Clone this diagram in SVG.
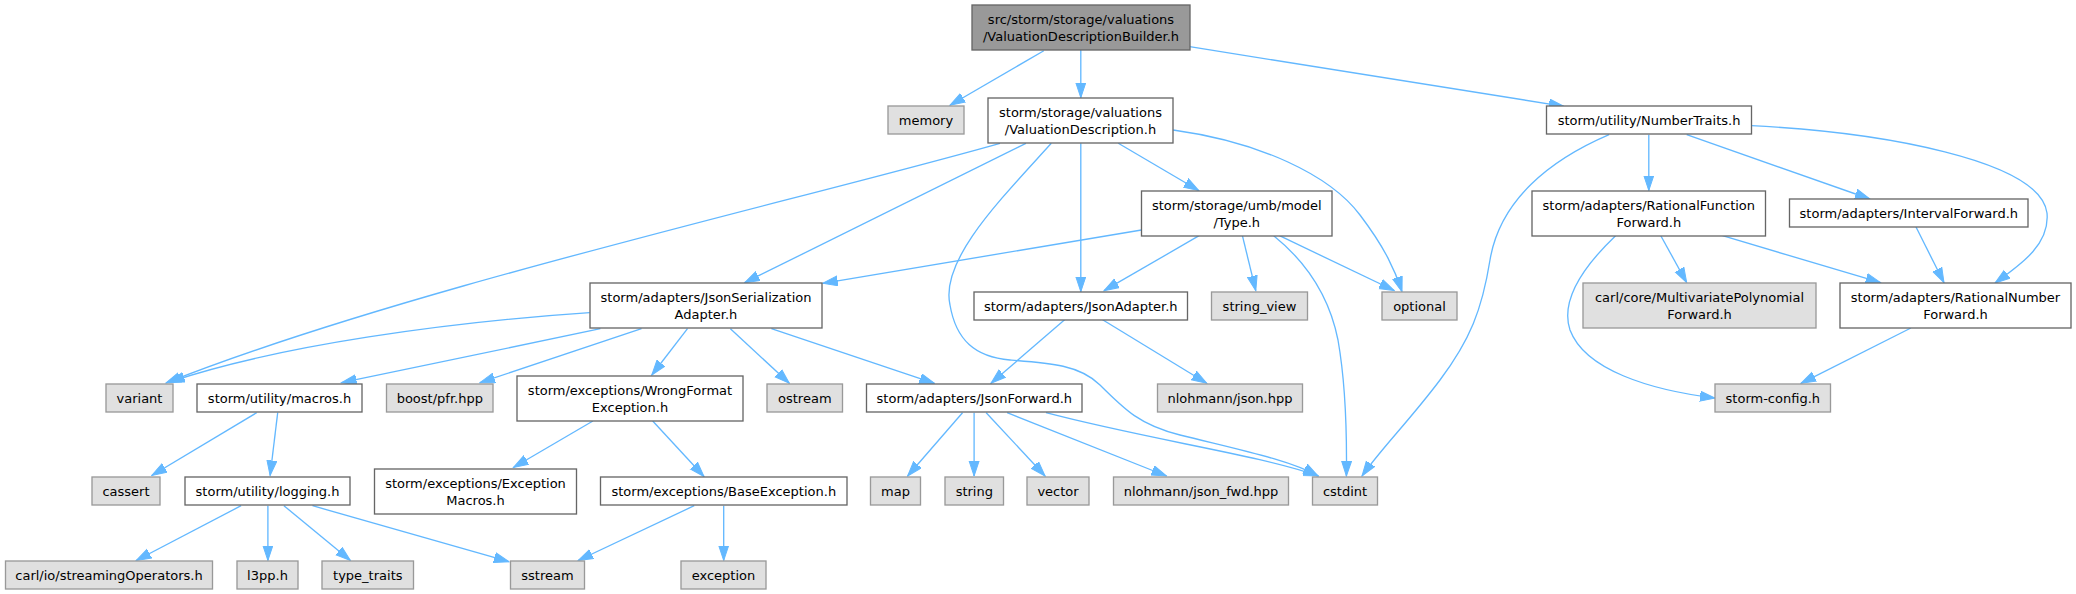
<svg xmlns="http://www.w3.org/2000/svg" width="2076" height="594" viewBox="0 0 2076 594">
<style>
.n rect{fill:#ffffff;stroke:#666666;stroke-width:1.33}
.g rect{fill:#e0e0e0;stroke:#999999;stroke-width:1.33}
.r rect{fill:#999999;stroke:#666666;stroke-width:1.33}
text{font-family:"DejaVu Sans",sans-serif;font-size:13px;fill:#000000;text-anchor:middle}
#edges path{fill:none;stroke:#63b8ff;stroke-width:1.33;marker-end:url(#ah)}
</style>
<defs>
<marker id="ah" markerUnits="userSpaceOnUse" markerWidth="16" markerHeight="12" refX="15" refY="5.5" orient="auto">
<path d="M0,0.5 L15,5.5 L0,10.5 z" fill="#63b8ff" stroke="#63b8ff" stroke-width="1"/>
</marker>
</defs>
<rect width="2076" height="594" fill="#ffffff"/>
<g id="edges">
<path d="M1043.8,50.7 L950,105.3"/>
<path d="M1080.8,50 L1080.8,97.7"/>
<path d="M1189.7,46.7 L1563.8,106.3"/>
<path d="M1000,143.3 C800,200 400,290 166,383"/>
<path d="M1025.9,143.3 L744.6,282.7"/>
<path d="M1051.3,143.3 C1000,200 940,260 950,305 C956,340 975,357 1010,360 C1050,363 1080,365 1100,385 C1125,410 1140,425 1180,435 C1240,450 1290,460 1318,476"/>
<path d="M1080.8,143.3 L1080.8,291.7"/>
<path d="M1118.3,143.3 L1198.7,190.5"/>
<path d="M1173.2,130 C1260,142 1330,175 1360,215 C1385,248 1395,270 1402,291.7"/>
<path d="M1141.5,230 L822.8,283.3"/>
<path d="M1199.1,235.7 L1104,290.7"/>
<path d="M1242.4,235.7 L1255.8,290.7"/>
<path d="M1273.7,235.7 C1310,265 1330,300 1338,340 C1345,380 1347,430 1346.4,476"/>
<path d="M1279.5,235.7 L1394.2,290.5"/>
<path d="M1609.1,134.7 C1550,160 1500,200 1490,260 C1482,310 1470,340 1440,380 C1410,420 1380,450 1362,476"/>
<path d="M1648.8,134.7 L1648.8,190.5"/>
<path d="M1686.7,134.7 L1869.9,199"/>
<path d="M1751.4,125.7 C1880,132 2040,160 2047,213 C2050,245 2020,265 1995,283"/>
<path d="M1615.6,235.7 C1585,265 1560,300 1570,330 C1585,370 1650,390 1715,398"/>
<path d="M1660.8,235.7 L1686.7,282.7"/>
<path d="M1722.5,235.7 L1880.7,282.7"/>
<path d="M1916,227 L1944,282.7"/>
<path d="M1910.9,328 L1801,383.3"/>
<path d="M589.7,312.7 C450,322 280,345 169.6,382"/>
<path d="M600.4,328.7 L341.5,382.7"/>
<path d="M641.5,328.7 L479.9,382.7"/>
<path d="M687.5,328.7 L651.8,375"/>
<path d="M730.4,328.7 L789.3,383.3"/>
<path d="M771.4,328.7 L934.4,383.3"/>
<path d="M1065.2,319.3 L991,383.3"/>
<path d="M1101.8,319.3 L1206.7,383.3"/>
<path d="M962.5,412.7 L907.6,476"/>
<path d="M974.1,412.7 L974.1,476"/>
<path d="M986.2,412.7 L1045.1,476"/>
<path d="M1007.1,412.7 L1166.5,476"/>
<path d="M1046,412.7 C1150,440 1260,455 1318.3,476"/>
<path d="M256.7,412.7 L151.8,475.5"/>
<path d="M277.7,412.7 L270.1,475.5"/>
<path d="M241.1,505.7 L136.2,560.5"/>
<path d="M267.9,505.7 L267.9,560.5"/>
<path d="M283.9,505.7 L350.4,560.5"/>
<path d="M312.5,505.7 L508.9,561.7"/>
<path d="M592.9,421 L513.4,467.5"/>
<path d="M652.7,421 L704,476.5"/>
<path d="M694.2,505.7 L578.1,560.5"/>
<path d="M723.7,505.7 L723.7,560.5"/>
</g>
<g id="n_root" class="r"><rect x="972" y="5" width="218" height="45"/><text x="1081" y="24">src/storm/storage/valuations</text><text x="1081" y="40.5">/ValuationDescriptionBuilder.h</text></g>
<g id="n_memory" class="g"><rect x="888" y="106" width="76" height="28"/><text x="926" y="125">memory</text></g>
<g id="n_valdesc" class="n"><rect x="988" y="98" width="185" height="45"/><text x="1080.5" y="117">storm/storage/valuations</text><text x="1080.5" y="133.5">/ValuationDescription.h</text></g>
<g id="n_numbertraits" class="n"><rect x="1546.5" y="106" width="205" height="28"/><text x="1649" y="125">storm/utility/NumberTraits.h</text></g>
<g id="n_variant" class="g"><rect x="106" y="384" width="67" height="28"/><text x="139.5" y="403">variant</text></g>
<g id="n_jsonser" class="n"><rect x="590" y="283" width="232" height="45"/><text x="706" y="302">storm/adapters/JsonSerialization</text><text x="706" y="318.5">Adapter.h</text></g>
<g id="n_cstdint" class="g"><rect x="1312.5" y="477" width="65" height="28"/><text x="1345" y="496">cstdint</text></g>
<g id="n_jsonadapter" class="n"><rect x="974" y="292" width="213.5" height="28"/><text x="1080.8" y="311">storm/adapters/JsonAdapter.h</text></g>
<g id="n_type" class="n"><rect x="1141.5" y="191" width="190.5" height="45"/><text x="1236.8" y="210">storm/storage/umb/model</text><text x="1236.8" y="226.5">/Type.h</text></g>
<g id="n_optional" class="g"><rect x="1382" y="292" width="75" height="28"/><text x="1419.5" y="311">optional</text></g>
<g id="n_stringview" class="g"><rect x="1211.5" y="292" width="96" height="28"/><text x="1259.5" y="311">string_view</text></g>
<g id="n_macros" class="n"><rect x="197" y="384" width="165" height="28"/><text x="279.5" y="403">storm/utility/macros.h</text></g>
<g id="n_pfr" class="g"><rect x="386.5" y="384" width="106.5" height="28"/><text x="439.8" y="403">boost/pfr.hpp</text></g>
<g id="n_wrongformat" class="n"><rect x="517" y="376" width="226" height="45"/><text x="630" y="395">storm/exceptions/WrongFormat</text><text x="630" y="411.5">Exception.h</text></g>
<g id="n_ostream" class="g"><rect x="767" y="384" width="75.5" height="28"/><text x="804.8" y="403">ostream</text></g>
<g id="n_jsonforward" class="n"><rect x="866.5" y="384" width="215.5" height="28"/><text x="974.3" y="403">storm/adapters/JsonForward.h</text></g>
<g id="n_jsonhpp" class="g"><rect x="1157.5" y="384" width="145" height="28"/><text x="1230" y="403">nlohmann/json.hpp</text></g>
<g id="n_cassert" class="g"><rect x="92" y="477" width="68" height="28"/><text x="126" y="496">cassert</text></g>
<g id="n_logging" class="n"><rect x="185" y="477" width="165" height="28"/><text x="267.5" y="496">storm/utility/logging.h</text></g>
<g id="n_excmacros" class="n"><rect x="374.5" y="469" width="202" height="45"/><text x="475.5" y="488">storm/exceptions/Exception</text><text x="475.5" y="504.5">Macros.h</text></g>
<g id="n_baseexc" class="n"><rect x="600.5" y="477" width="246.5" height="28"/><text x="723.8" y="496">storm/exceptions/BaseException.h</text></g>
<g id="n_map" class="g"><rect x="870.5" y="477" width="50" height="28"/><text x="895.5" y="496">map</text></g>
<g id="n_string" class="g"><rect x="945" y="477" width="58.5" height="28"/><text x="974.3" y="496">string</text></g>
<g id="n_vector" class="g"><rect x="1027" y="477" width="62" height="28"/><text x="1058" y="496">vector</text></g>
<g id="n_jsonfwd" class="g"><rect x="1113.5" y="477" width="175" height="28"/><text x="1201" y="496">nlohmann/json_fwd.hpp</text></g>
<g id="n_streamops" class="g"><rect x="5.5" y="561" width="207" height="28"/><text x="109" y="580">carl/io/streamingOperators.h</text></g>
<g id="n_l3pp" class="g"><rect x="237" y="561" width="61" height="28"/><text x="267.5" y="580">l3pp.h</text></g>
<g id="n_typetraits" class="g"><rect x="322" y="561" width="91.5" height="28"/><text x="367.8" y="580">type_traits</text></g>
<g id="n_sstream" class="g"><rect x="510.5" y="561" width="74" height="28"/><text x="547.5" y="580">sstream</text></g>
<g id="n_exception" class="g"><rect x="681" y="561" width="85" height="28"/><text x="723.5" y="580">exception</text></g>
<g id="n_ratfunc" class="n"><rect x="1532" y="191" width="233.5" height="45"/><text x="1648.8" y="210">storm/adapters/RationalFunction</text><text x="1648.8" y="226.5">Forward.h</text></g>
<g id="n_interval" class="n"><rect x="1789.5" y="199" width="238.5" height="28"/><text x="1908.8" y="218">storm/adapters/IntervalForward.h</text></g>
<g id="n_carlmvp" class="g"><rect x="1583" y="283" width="233" height="45"/><text x="1699.5" y="302">carl/core/MultivariatePolynomial</text><text x="1699.5" y="318.5">Forward.h</text></g>
<g id="n_ratnum" class="n"><rect x="1840" y="283" width="231" height="45"/><text x="1955.5" y="302">storm/adapters/RationalNumber</text><text x="1955.5" y="318.5">Forward.h</text></g>
<g id="n_stormconfig" class="g"><rect x="1715" y="384" width="115.5" height="28"/><text x="1772.8" y="403">storm-config.h</text></g>
</svg>
